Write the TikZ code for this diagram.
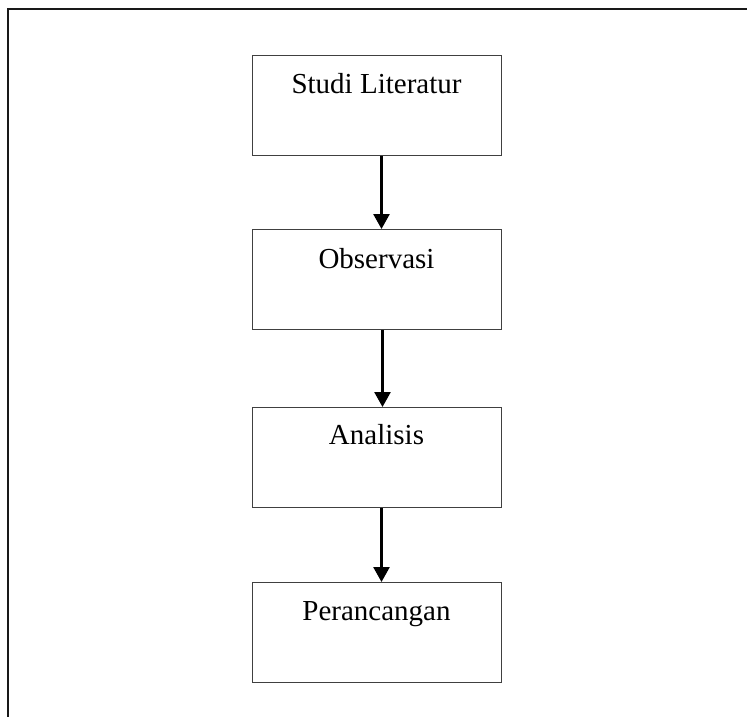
\documentclass[tikz,border=0pt]{standalone}
\usepackage{fontspec}
\setmainfont{Liberation Serif}
\usetikzlibrary{arrows.meta}
\tikzset{
  stepbox/.style={draw=black!75, line width=1pt, minimum width=249pt, minimum height=100pt, inner sep=0pt, anchor=north},
  steptext/.style={anchor=base, font=\fontsize{29}{34}\selectfont},
  flow/.style={line width=2.6pt, -{Triangle[width=16pt,length=15pt]}}
}
\begin{document}
\begin{tikzpicture}[x=1pt,y=-1pt]
\useasboundingbox (0,0) rectangle (747,717);
\draw[line width=1.4pt, black!90] (8,717) -- (8,9) -- (747,9);
\node[stepbox, label={[steptext, yshift=-38pt]north:Studi Literatur}] (s1) at (376.5,55) {};
\node[stepbox, label={[steptext, yshift=-39pt]north:Observasi}] (s2) at (376.5,229) {};
\node[stepbox, label={[steptext, yshift=-37pt]north:Analisis}] (s3) at (376.5,407) {};
\node[stepbox, label={[steptext, yshift=-38pt]north:Perancangan}] (s4) at (376.5,582) {};
\draw[flow] ([xshift=5pt]s1.south) -- ([xshift=5pt]s2.north);
\draw[flow] ([xshift=6pt]s2.south) -- ([xshift=6pt]s3.north);
\draw[flow] ([xshift=5pt]s3.south) -- ([xshift=5pt]s4.north);
\end{tikzpicture}
\end{document}
